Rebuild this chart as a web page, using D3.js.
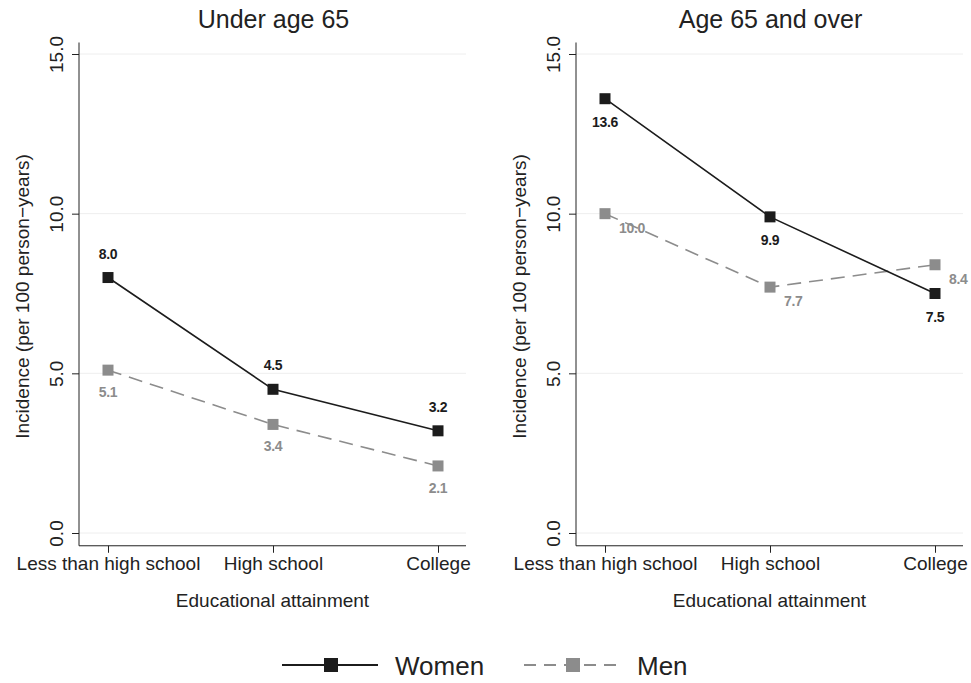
<!DOCTYPE html>
<html>
<head>
<meta charset="utf-8">
<script src="https://cdn.jsdelivr.net/npm/d3@7"></script>
<style>
  body { margin: 0; background: #fff; }
  svg { font-family: "Liberation Sans", Arial, sans-serif; }
</style>
</head>
<body>
<svg id="chart" width="971" height="683"></svg>
<script>
// data
const levels = ["Less than high school", "High school", "College"];
const panels = ["Under age 65", "Age 65 and over"];
const women = [[8.0, 4.5, 3.2], [13.6, 9.9, 7.5]];
const men = [[5.1, 3.4, 2.1], [10.0, 7.7, 8.4]];
const yTicks = [0, 5, 10, 15];

const svg = d3.select("#chart");
const womenColor = "#1c1c1c";
const menColor = "#8c8c8c";
const font = "Liberation Sans, Arial, sans-serif";

// where each label sits relative to its point: [dx, dy, anchor]
const womenPos = [
  [0, -18, "middle"],
  [0, 29, "middle"]
];
const menPos = [
  [0, 28, "middle"],
  [14, 20, "start"]
];

const panelLeft = [79, 576];
const panelW = 387;

const y = d3.scaleLinear().domain([0, 15]).range([533, 54]);

panels.forEach((title, p) => {
  const x0 = panelLeft[p];
  const x = d3.scalePoint().domain(levels).range([x0 + 29, x0 + panelW - 28]);
  const g = svg.append("g");

  // gridlines
  g.selectAll(".grid")
    .data(yTicks)
    .enter().append("line")
    .attr("x1", x0).attr("x2", x0 + panelW)
    .attr("y1", d => y(d)).attr("y2", d => y(d))
    .attr("stroke", "#eeeeee").attr("stroke-width", 1);

  // y axis
  const yAxis = g.append("g")
    .attr("transform", `translate(${x0},0)`)
    .call(d3.axisLeft(y).tickValues(yTicks).tickFormat(d3.format(".1f")).tickSize(7).tickSizeOuter(0));
  yAxis.select(".domain").attr("d", `M0,${y(15.36)}V${y(-0.4)}`).attr("stroke", "#222");
  yAxis.selectAll(".tick line").attr("stroke", "#222");
  yAxis.selectAll(".tick text")
    .attr("transform", "rotate(-90)")
    .attr("x", 0).attr("y", -16)
    .attr("dy", 0)
    .attr("text-anchor", "middle")
    .style("font-size", "19px").style("font-family", font)
    .attr("fill", "#222");

  // x axis
  const xAxis = g.append("g")
    .attr("transform", `translate(0,${y(-0.4)})`)
    .call(d3.axisBottom(x).tickSize(7).tickSizeOuter(0));
  xAxis.select(".domain").attr("d", `M${x0},0H${x0 + panelW}`).attr("stroke", "#222");
  xAxis.selectAll(".tick line").attr("stroke", "#222");
  xAxis.selectAll(".tick text")
    .attr("y", 11)
    .style("font-size", "19px").style("font-family", font)
    .attr("fill", "#222");

  // titles
  g.append("text")
    .attr("x", x0 + panelW / 2 + 1).attr("y", 28)
    .attr("text-anchor", "middle")
    .style("font-size", "25px").attr("fill", "#222")
    .text(title);

  g.append("text")
    .attr("x", x0 + panelW / 2).attr("y", 607)
    .attr("text-anchor", "middle")
    .style("font-size", "19px").attr("fill", "#222")
    .text("Educational attainment");

  g.append("text")
    .attr("transform", `translate(${x0 - 50},${y(7.5) + 3}) rotate(-90)`)
    .attr("text-anchor", "middle")
    .style("font-size", "19px").attr("fill", "#222")
    .text("Incidence (per 100 person\u2212years)");

  const line = d3.line().x((d, i) => x(levels[i])).y(d => y(d));

  const series = [
    { vals: men[p], color: menColor, dash: "14,8", pos: menPos[p] },
    { vals: women[p], color: womenColor, dash: null, pos: womenPos[p] }
  ];

  series.forEach(s => {
    g.append("path")
      .datum(s.vals)
      .attr("d", line)
      .attr("fill", "none")
      .attr("stroke", s.color)
      .attr("stroke-width", 1.6)
      .attr("stroke-dasharray", s.dash);

    g.selectAll(null)
      .data(s.vals)
      .enter().append("rect")
      .attr("x", (d, i) => x(levels[i]) - 5.5)
      .attr("y", d => y(d) - 5.5)
      .attr("width", 11).attr("height", 11)
      .attr("fill", s.color);

    g.selectAll(null)
      .data(s.vals)
      .enter().append("text")
      .attr("x", (d, i) => x(levels[i]) + s.pos[0])
      .attr("y", d => y(d) + s.pos[1] - 1)
      .attr("text-anchor", s.pos[2])
      .style("font-size", "14px").style("font-weight", "bold")
      .style("letter-spacing", "-0.3px")
      .attr("fill", s.color)
      .text(d => d3.format(".1f")(d));
  });
});

// legend
const legendItems = [
  { name: "Women", color: womenColor, dash: null, x: 282 },
  { name: "Men", color: menColor, dash: "12,8", x: 524 }
];
const lg = svg.append("g").attr("transform", "translate(0,665)");
legendItems.forEach(d => {
  lg.append("line")
    .attr("x1", d.x).attr("x2", d.x + 96)
    .attr("stroke", d.color).attr("stroke-width", 1.8)
    .attr("stroke-dasharray", d.dash);
  lg.append("rect")
    .attr("x", d.x + 42).attr("y", -7)
    .attr("width", 14).attr("height", 14)
    .attr("fill", d.color);
  lg.append("text")
    .attr("x", d.x + 113).attr("y", 10)
    .style("font-size", "26px").attr("fill", "#222")
    .text(d.name);
});
</script>
</body>
</html>
